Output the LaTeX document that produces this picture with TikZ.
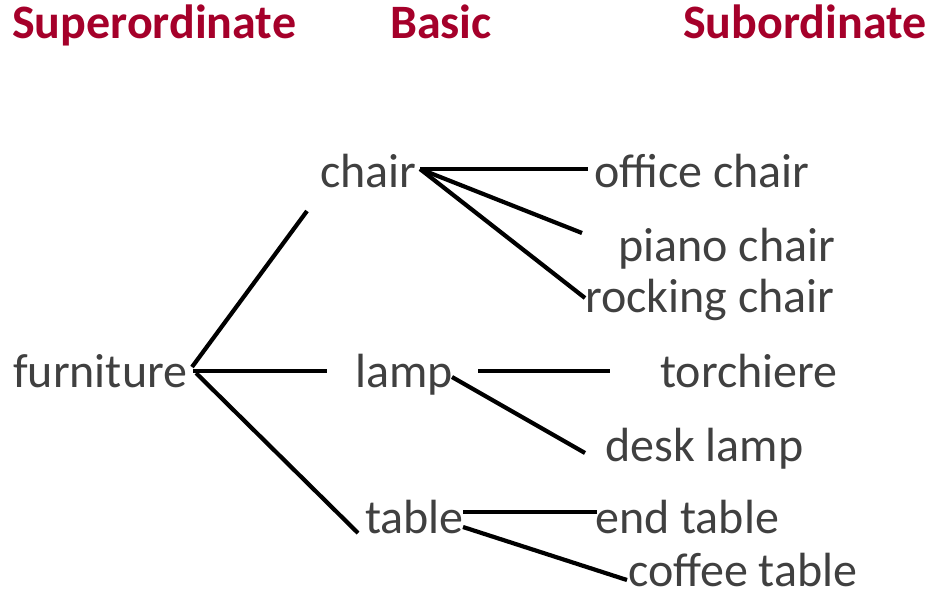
\documentclass[tikz,border=0pt]{standalone}
\usepackage{fontspec}
\setmainfont{Carlito}
\definecolor{headred}{HTML}{A5002A}
\definecolor{wordgray}{HTML}{404040}
\tikzset{
	head/.style={anchor=base west,inner sep=0pt,font=\fontsize{48}{50}\selectfont\bfseries,text=headred},
	word/.style={anchor=base west,inner sep=0pt,font=\fontsize{48}{50}\selectfont,text=wordgray},
	link/.style={line width=4.2pt,black}
}
\begin{document}
\begin{tikzpicture}[x=1pt,y=-1pt]
		\useasboundingbox (0,0) rectangle (931,592);

		\node[head] (sup) at (12,38) {Superordinate};
		\node[head] (bas) at (390,38) {Basic};
		\node[head] (sub) at (683,38) {Subordinate};

		\node[word] (furniture) at (13,387) {furniture};
		\node[word] (chair) at (320,187) {chair};
		\node[word] (lamp) at (355,387) {lamp};
		\node[word] (table) at (365,533) {table};

		\node[word] (office) at (594,187) {office chair};
		\node[word] (piano) at (618,261) {piano chair};
		\node[word] (rocking) at (585,312) {rocking chair};
		\node[word] (torch) at (660,387) {torchiere};
		\node[word] (desk) at (605,461) {desk lamp};
		\node[word] (endt) at (595,533) {end table};
		\node[word] (coffee) at (628,586) {coffee table};

		\coordinate (chairin) at (307,211);
		\coordinate (lampin) at (327,371);
		\coordinate (pianoin) at (582,233);
		\coordinate (deskin) at (585,453);

		% superordinate to basic
		\draw[link] (192,367) -- (chairin);
		\draw[link] (193,371) -- (lampin);
		\draw[link] (196,373) -- ([xshift=-7pt]table.base west);

		% basic to subordinate
		\draw[link] (420,169) -- ([shift={(-6,-18)}]office.base west);
		\draw[link] (420,169) -- (pianoin);
		\draw[link] (420,169) -- ([shift={(0,-14)}]rocking.base west);
		\draw[link] (478,371) -- (610,371);
		\draw[link] (452,377) -- (deskin);
		\draw[link] (463,512) -- ([shift={(2,-21)}]endt.base west);
		\draw[link] (463,527) -- ([shift={(-1,-6)}]coffee.base west);
	\end{tikzpicture}
\end{document}
